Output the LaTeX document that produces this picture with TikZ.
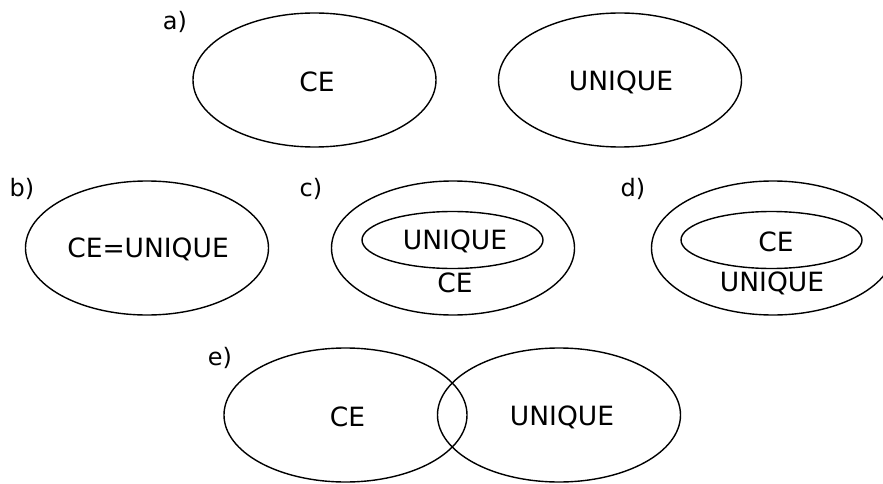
\documentclass[tikz,border=0pt]{standalone}
\usepackage{fontspec}
\setmainfont{DejaVu Sans}
\usetikzlibrary{shapes.geometric}
\tikzset{
  set/.style={draw, ellipse, line width=1.4pt, inner sep=0pt, minimum width=243pt, minimum height=134pt},
  inset/.style={draw, ellipse, line width=1.4pt, inner sep=0pt, minimum width=181pt, minimum height=57pt},
  txt/.style={inner sep=0pt, font=\fontsize{26.5}{31}\selectfont},
  lbl/.style={inner sep=0pt, font=\fontsize{24}{28}\selectfont}
}
\begin{document}
\begin{tikzpicture}[x=1pt,y=-1pt]
\useasboundingbox (0,0) rectangle (883,484);
% a)
\node[lbl] (la) at (175,22) {a)};
\node[set] (aCE) at (314.5,80) {};
\node[set] (aUN) at (620,80) {};
\node[txt] (taCE) at (317,82) {CE};
\node[txt] (taUN) at (621,82) {UNIQUE};
% b)
\node[lbl] (lb) at (22,189) {b)};
\node[set] (bS) at (147,248) {};
\node[txt] (tb) at (148,249) {CE=UNIQUE};
% c)
\node[lbl] (lc) at (311,189) {c)};
\node[set] (cO) at (453,248) {};
\node[inset] (cI) at (452.5,240) {};
\node[txt] (tcUN) at (455,241) {UNIQUE};
\node[txt] (tcCE) at (455,283) {CE};
% d)
\node[lbl] (ld) at (633,189) {d)};
\node[set] (dO) at (773,248) {};
\node[inset] (dI) at (771.5,240) {};
\node[txt] (tdCE) at (776,242) {CE};
\node[txt] (tdUN) at (772,283) {UNIQUE};
% e)
\node[lbl] (le) at (220,358) {e)};
\node[set] (eL) at (345.5,415) {};
\node[set] (eR) at (559,415) {};
\node[txt] (teCE) at (347.5,417) {CE};
\node[txt] (teUN) at (562,417) {UNIQUE};
\end{tikzpicture}
\end{document}
